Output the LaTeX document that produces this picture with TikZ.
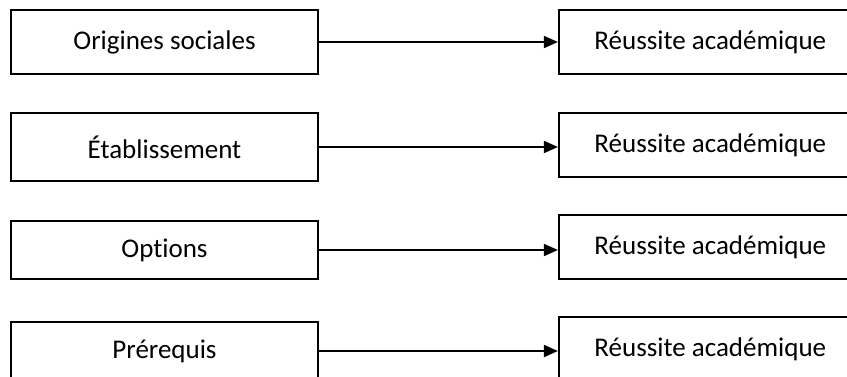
\documentclass[tikz,border=0pt]{standalone}
\usepackage{fontspec}
\setmainfont{Carlito}[Ligatures=NoCommon]
\usetikzlibrary{arrows.meta,positioning}

\begin{document}
\begin{tikzpicture}[
  x=1pt,y=-1pt,
  font=\fontsize{27}{32}\selectfont,
  >={Triangle[length=14pt,width=12pt]},
  cause/.style={draw,line width=1.8pt,minimum width=307pt,minimum height=64pt,inner sep=0pt},
  effet/.style={draw,line width=1.8pt,minimum width=303pt,minimum height=64pt,inner sep=0pt},
]
\useasboundingbox (0,0) rectangle (847,376);
\clip (0,0) rectangle (847,376);
\node[cause] (orig) at (164.5,42) {Origines sociales};
\node[cause,minimum height=68pt] (etab) at (164.5,147) {Établissement};
\node[cause,minimum height=58pt] (opt) at (164.5,250) {Options};
\node[cause,minimum height=58pt] (prer) at (164.5,351) {Prérequis};
\node[effet,right=239pt of orig] (reus1) {Réussite académique};
\node[effet,right=239pt of etab,yshift=2pt] (reus2) {Réussite académique};
\node[effet,right=239pt of opt,yshift=3pt] (reus3) {Réussite académique};
\node[effet,right=239pt of prer,yshift=2pt] (reus4) {Réussite académique};
\draw[line width=1.8pt,->] (orig.east) -- (orig.east -| reus1.west);
\draw[line width=1.8pt,->] (etab.east) -- (etab.east -| reus2.west);
\draw[line width=1.8pt,->] (opt.east) -- (opt.east -| reus3.west);
\draw[line width=1.8pt,->] (prer.east) -- (prer.east -| reus4.west);
\end{tikzpicture}
\end{document}
